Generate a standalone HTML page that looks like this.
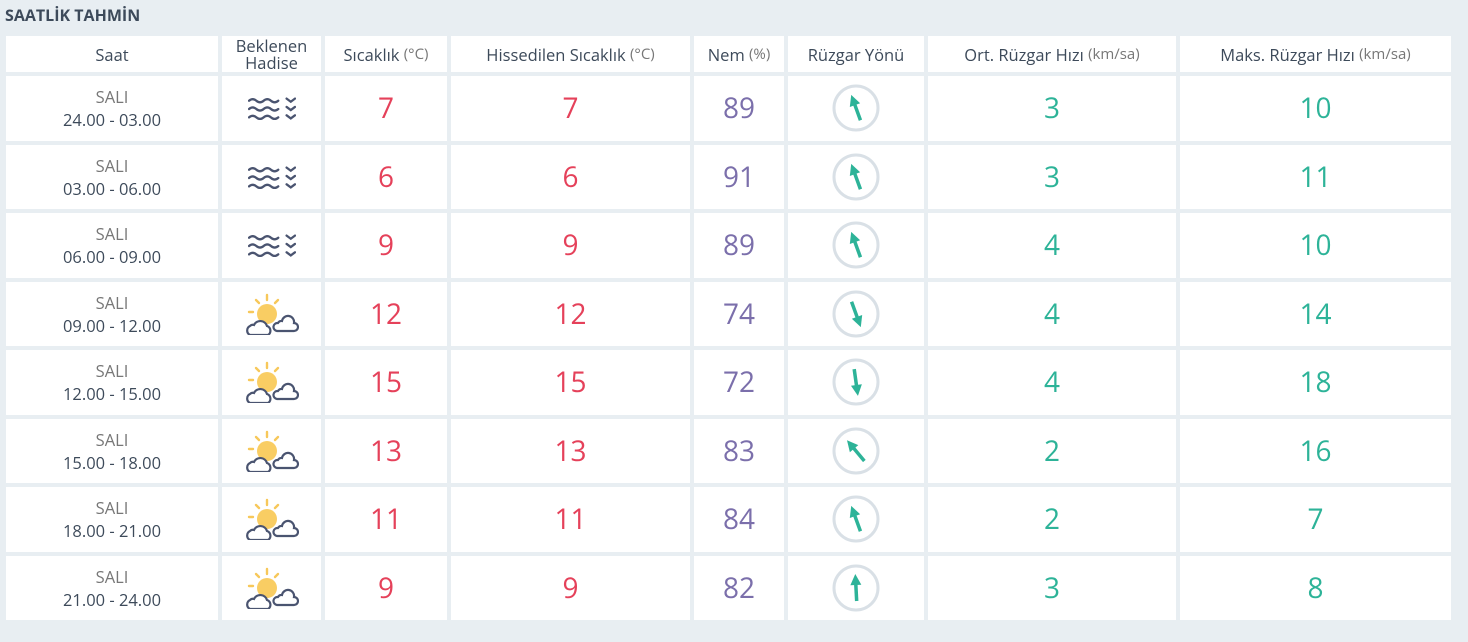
<!DOCTYPE html>
<html><head><meta charset="utf-8"><style>
body{margin:0;width:1468px;height:642px;background:#e8eef2;font-family:"Open Sans","Liberation Sans",sans-serif;position:relative;overflow:hidden}
h1{position:absolute;left:5px;top:4px;margin:0;font-size:16px;font-weight:bold;color:#3d4a5a;letter-spacing:0}
.g{position:absolute;left:6px;top:36px;display:grid;grid-template-columns:216px 103px 126px 243px 94px 140px 252px 271px;grid-template-rows:36px repeat(8,64.5px);row-gap:4px}
.c{background:#fff;border-right:4px solid #e8eef2;display:flex;align-items:center;justify-content:center;text-align:center;color:#3d4a5a}
.c:nth-child(8n){border-right:none}
.h{font-size:16.5px;line-height:17px}
.h small{font-size:15px;color:#777}
.t{font-size:16.5px;line-height:23px}
.t span{color:#777}
.n{font-size:28px}
.r{color:#e5415a}.p{color:#7b6fab}.q{color:#2db398}
</style></head><body>
<h1>SAATLİK TAHMİN</h1>
<svg width="0" height="0" style="position:absolute"><defs>
<g id="fog" fill="none" stroke="#4a5470" stroke-width="2.2" stroke-linecap="round">
<path d="M0 2 q3.5 -3 7 0 t7 0 t7 0 t7 0"/><path d="M0 10 q3.5 -3 7 0 t7 0 t7 0 t7 0"/><path d="M0 18 q3.5 -3 7 0 t7 0 t7 0 t7 0"/>
<path d="M36 0 l4 3 l4 -3"/><path d="M36 8 l4 3 l4 -3"/><path d="M36 16 l4 3 l4 -3"/></g>
<g id="sun"><g stroke="#f7c85a" stroke-width="2.4" stroke-linecap="round"><line x1="22" y1="2" x2="22" y2="7"/><line x1="11" y1="7" x2="14" y2="10"/><line x1="33" y1="7" x2="30" y2="10"/><line x1="4" y1="19" x2="8" y2="19"/></g>
<circle cx="22" cy="21" r="10" fill="#f9cd63"/>
<path d="M37 28 a6 6 0 0 1 12 2 a4 4 0 0 1 0 8 h-17 a4 4 0 0 1 1 -8 a4 4 0 0 1 4 -2z" fill="#fff" stroke="#4a5470" stroke-width="2.2"/>
<path d="M9 32 a7 7 0 0 1 13 1 a5 5 0 0 1 1 9 h-18 a5 5 0 0 1 0 -9 a4 4 0 0 1 4 -1z" fill="#fff" stroke="#4a5470" stroke-width="2.2"/></g>
</defs></svg>
<div class="g">
<div class="c h">Saat</div><div class="c h">Beklenen<br>Hadise</div><div class="c h">Sıcaklık&nbsp;<small>(°C)</small></div><div class="c h">Hissedilen Sıcaklık&nbsp;<small>(°C)</small></div><div class="c h">Nem&nbsp;<small>(%)</small></div><div class="c h">Rüzgar Yönü</div><div class="c h">Ort. Rüzgar Hızı&nbsp;<small>(km/sa)</small></div><div class="c h">Maks. Rüzgar Hızı&nbsp;<small>(km/sa)</small></div>
</div>
<script>
var d=[["24.00 - 03.00","fog",7,7,89,-20,3,10],["03.00 - 06.00","fog",6,6,91,-20,3,11],["06.00 - 09.00","fog",9,9,89,-20,4,10],["09.00 - 12.00","sun",12,12,74,160,4,14],["12.00 - 15.00","sun",15,15,72,172,4,18],["15.00 - 18.00","sun",13,13,83,-40,2,16],["18.00 - 21.00","sun",11,11,84,-20,2,7],["21.00 - 24.00","sun",9,9,82,-3,3,8]];
var g=document.querySelector('.g'),h='';
d.forEach(function(r){
var ic=r[1]=="fog"?'<svg width="48" height="24" viewBox="0 0 46 22"><use href="#fog" transform="translate(1,2)"/></svg>':'<svg width="54" height="42" viewBox="0 0 54 42"><use href="#sun"/></svg>';
h+='<div class="c t"><div><span>SALI</span><br>'+r[0]+'</div></div><div class="c">'+ic+'</div><div class="c n r">'+r[2]+'</div><div class="c n r">'+r[3]+'</div><div class="c n p">'+r[4]+'</div>'+
'<div class="c"><svg width="50" height="50" viewBox="0 0 50 50"><circle cx="25" cy="25" r="22" fill="none" stroke="#d9e0e6" stroke-width="3"/><g transform="rotate('+r[5]+' 25 25)"><line x1="25" y1="38" x2="25" y2="20" stroke="#2db398" stroke-width="3.5"/><path d="M19.5 22 L25 11 L30.5 22z" fill="#2db398"/></g></svg></div>'+
'<div class="c n q">'+r[6]+'</div><div class="c n q">'+r[7]+'</div>';});
g.insertAdjacentHTML('beforeend',h);
</script>
</body></html>
